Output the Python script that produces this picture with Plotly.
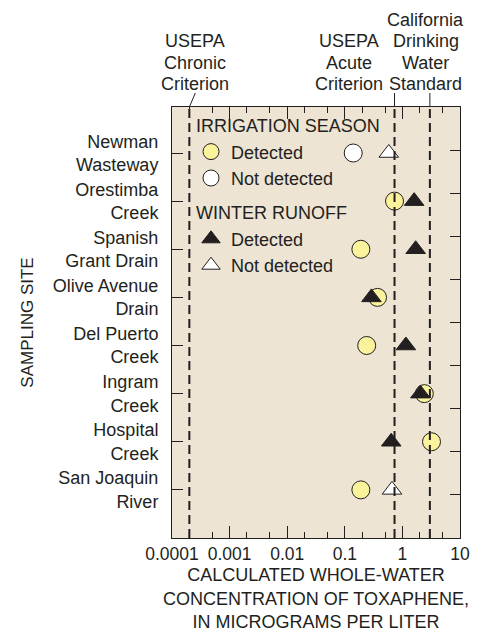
import math
import plotly.graph_objects as go

sites = ["Newman<br>Wasteway", "Orestimba<br>Creek", "Spanish<br>Grant Drain",
         "Olive Avenue<br>Drain", "Del Puerto<br>Creek", "Ingram<br>Creek",
         "Hospital<br>Creek", "San Joaquin<br>River"]
site_pos = [1, 2, 3, 4, 5, 6, 7, 8]
irrigation = [0.14, 0.73, 0.19, 0.37, 0.24, 2.4, 3.2, 0.19]
irr_detected = [False, True, True, True, True, True, True, True]
winter = [0.58, 1.6, 1.7, 0.29, 1.15, 2.05, 0.64, 0.66]
win_detected = [False, True, True, True, True, True, True, False]

criteria_lines = [["USEPA", "Chronic", "Criterion"],
                  ["USEPA", "Acute", "Criterion"],
                  ["California", "Drinking", "Water", "Standard"]]
criteria_values = [0.0002, 0.73, 3.0]

x_tickvals = [0.0001, 0.001, 0.01, 0.1, 1, 10]
x_ticktext = ["0.0001", "0.001", "0.01", "0.1", "1", "10"]

INK = "#231f20"
YELLOW = "#fbf29c"
BG = "#ede4d3"
FONT = "Liberation Sans, Arial, sans-serif"


def pick(vals, flags, want):
    xs = [v for v, f in zip(vals, flags) if f == want]
    ys = [p for p, f in zip(site_pos, flags) if f == want]
    return xs, ys


fig = go.Figure()

x, y = pick(irrigation, irr_detected, True)
fig.add_trace(go.Scatter(x=x, y=y, mode="markers", name="Detected",
                         legendgroup="irr", legendgrouptitle_text="IRRIGATION SEASON",
                         marker=dict(symbol="circle", size=18, color=YELLOW,
                                     line=dict(color=INK, width=1))))
x, y = pick(irrigation, irr_detected, False)
fig.add_trace(go.Scatter(x=x, y=y, mode="markers", name="Not detected",
                         legendgroup="irr",
                         marker=dict(symbol="circle", size=18, color="white",
                                     line=dict(color=INK, width=1))))
x, y = pick(winter, win_detected, True)
fig.add_trace(go.Scatter(x=x, y=y, mode="markers", name="Detected",
                         legendgroup="win", legendgrouptitle_text="WINTER RUNOFF",
                         marker=dict(symbol="triangle-up", size=17, color=INK,
                                     line=dict(color=INK, width=1))))
x, y = pick(winter, win_detected, False)
fig.add_trace(go.Scatter(x=x, y=y, mode="markers", name="Not detected",
                         legendgroup="win",
                         marker=dict(symbol="triangle-up", size=17, color="white",
                                     line=dict(color=INK, width=1))))
# carrier for right-hand tick axis
fig.add_trace(go.Scatter(x=[], y=[], yaxis="y2", showlegend=False, hoverinfo="skip"))

shapes = []
annotations = []
leader = [(6, 14, 6), (-34, 14, -46), (-13, 14, -4)]
LINE_STEP = 21.5
for lines, val, (ldx, ldy, tx) in zip(criteria_lines, criteria_values, leader):
    shapes.append(dict(type="line", xref="x", yref="paper", x0=val, x1=val, y0=0, y1=1,
                       line=dict(color=INK, width=2, dash="9px,5px"), layer="above"))
    shapes.append(dict(type="line", xref="x", xsizemode="pixel", xanchor=val, x0=0, x1=ldx,
                       yref="paper", ysizemode="pixel", yanchor=1, y0=0, y1=ldy,
                       line=dict(color=INK, width=1)))
    n = len(lines)
    for i, line in enumerate(lines):
        annotations.append(dict(x=math.log10(val), xref="x", y=1, yref="paper", text=line,
                                showarrow=False, xanchor="center", yanchor="bottom",
                                yshift=11 + (n - 1 - i) * LINE_STEP, xshift=tx,
                                font=dict(size=18, color=INK, family=FONT)))

fig.update_layout(
    width=479, height=624,
    margin=dict(l=164, r=27, t=99, b=94),
    paper_bgcolor="white", plot_bgcolor=BG,
    font=dict(family=FONT, size=18, color=INK),
    shapes=shapes, annotations=annotations,
    showlegend=True,
    legend=dict(x=0.066, y=1.0, xanchor="left", yanchor="top", bgcolor="rgba(0,0,0,0)",
                font=dict(size=18, color=INK), tracegroupgap=8,
                grouptitlefont=dict(size=18, color=INK)),
    xaxis=dict(type="log", range=[-4, 1], tickvals=x_tickvals, ticktext=x_ticktext,
               ticks="inside", ticklen=12, tickcolor=INK, tickwidth=1,
               showline=True, linecolor=INK, linewidth=1, mirror="ticks",
               showgrid=False, zeroline=False, automargin=False,
               minor=dict(ticks="inside", ticklen=6, tickcolor=INK, tickwidth=1, showgrid=False),
               tickfont=dict(size=17.5, color=INK),
               title=dict(text="CALCULATED WHOLE-WATER<br>CONCENTRATION OF TOXAPHENE,<br>IN MICROGRAMS PER LITER",
                          font=dict(size=18, color=INK), standoff=8)),
    yaxis=dict(range=[9.0, 0.044], tickvals=site_pos, ticktext=sites,
               ticks="inside", ticklen=11, tickcolor=INK, tickwidth=1,
               showline=True, linecolor=INK, linewidth=1, mirror=True,
               showgrid=False, zeroline=False, tickfont=dict(size=18, color=INK),
               ticklabelstandoff=9, automargin=False,
               title=dict(text="SAMPLING SITE", font=dict(size=17, color=INK), standoff=14)),
    yaxis2=dict(overlaying="y", side="right", range=[0, 10], tickvals=[1, 2, 3, 4, 5, 6, 7, 8, 9],
                showticklabels=False, ticks="inside", ticklen=10, tickcolor=INK,
                showgrid=False, zeroline=False, showline=False),
)

fig.write_html("out.html")
